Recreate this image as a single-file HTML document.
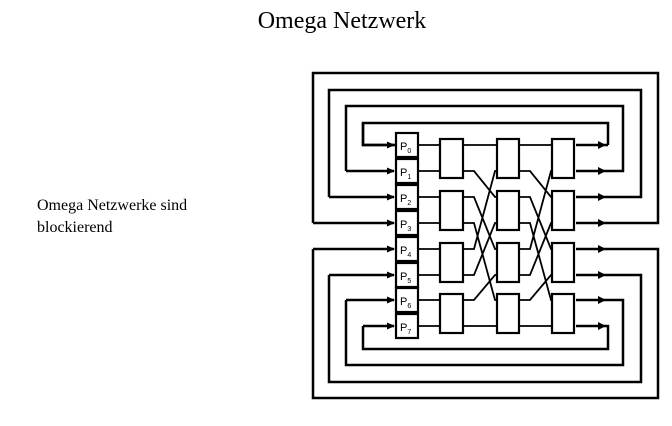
<!DOCTYPE html>
<html><head><style>
body{margin:0;background:#fff;width:672px;height:426px;overflow:hidden;position:relative;font-family:"Liberation Serif",serif}
.t{position:absolute;left:0;width:684px;text-align:center;top:8px;font-size:24px}
.s{position:absolute;left:37px;top:195px;font-size:16px;line-height:22px}
</style></head><body>
<div class="t">Omega Netzwerk</div>
<div class="s">Omega Netzwerke sind<br>blockierend</div>
<svg width="672" height="426" style="position:absolute;left:0;top:0">
<defs><marker id="a" markerWidth="8" markerHeight="8" refX="7" refY="4" orient="auto" markerUnits="userSpaceOnUse"><path d="M0,0.5 L8,4 L0,7.5z" fill="#000"/></marker></defs>
<g fill="none" stroke="#000" stroke-width="2.5">
<path d="M396,145 H363 V123 H608 V145" marker-start="url(#a)"/>
<path d="M363,123 V145 H394" marker-end="url(#a)"/>
<path d="M346,171 V106 H623 V171 H576"/><path d="M346,171 H394" marker-end="url(#a)"/>
<path d="M329,197 V90 H641 V197 H576"/><path d="M329,197 H394" marker-end="url(#a)"/>
<path d="M313,223 V73 H658 V223 H576"/><path d="M313,223 H394" marker-end="url(#a)"/>
<path d="M313,249 V398 H658 V249 H576"/><path d="M313,249 H394" marker-end="url(#a)"/>
<path d="M329,275 V382 H641 V275 H576"/><path d="M329,275 H394" marker-end="url(#a)"/>
<path d="M346,300 V365 H623 V300 H576"/><path d="M346,300 H394" marker-end="url(#a)"/>
<path d="M363,326 V349 H608 V326 H576"/><path d="M363,326 H394" marker-end="url(#a)"/>
<path d="M608,145 H576"/>
</g>
<g fill="#000">
<path d="M598,141 L606,145 L598,149z"/><path d="M598,167 L606,171 L598,175z"/><path d="M598,193 L606,197 L598,201z"/><path d="M598,219 L606,223 L598,227z"/>
<path d="M598,245 L606,249 L598,253z"/><path d="M598,271 L606,275 L598,279z"/><path d="M598,296 L606,300 L598,304z"/><path d="M598,322 L606,326 L598,330z"/>
</g>
<g stroke="#000" stroke-width="1.8" fill="none">
<path d="M418,145H440M418,171H440M418,197H440M418,223H440M418,249H440M418,275H440M418,300H440M418,326H440"/>
<path d="M463,145H497M463,171H474L495,197H497M463,197H474L495,249H497M463,223H474L495,300H497M463,249H474L495,171H497M463,275H474L495,223H497M463,300H474L495,275H497M463,326H497"/>
<path d="M519,145H552M519,171H530L551,197H552M519,197H530L551,249H552M519,223H530L551,300H552M519,249H530L551,171H552M519,275H530L551,223H552M519,300H530L551,275H552M519,326H552"/>
</g>
<g stroke="#000" stroke-width="2.2" fill="#fff">
<rect x="396" y="133" width="22" height="24"/><rect x="396" y="159" width="22" height="24"/><rect x="396" y="185" width="22" height="24"/><rect x="396" y="211" width="22" height="24"/>
<rect x="396" y="237" width="22" height="24"/><rect x="396" y="263" width="22" height="24"/><rect x="396" y="288" width="22" height="24"/><rect x="396" y="314" width="22" height="24"/>
<rect x="440" y="139" width="23" height="39"/><rect x="440" y="191" width="23" height="39"/><rect x="440" y="243" width="23" height="39"/><rect x="440" y="294" width="23" height="39"/>
<rect x="497" y="139" width="22" height="39"/><rect x="497" y="191" width="22" height="39"/><rect x="497" y="243" width="22" height="39"/><rect x="497" y="294" width="22" height="39"/>
<rect x="552" y="139" width="22" height="39"/><rect x="552" y="191" width="22" height="39"/><rect x="552" y="243" width="22" height="39"/><rect x="552" y="294" width="22" height="39"/>
</g>
<g font-family="Liberation Sans, sans-serif" font-size="11" fill="#000">
<text x="400" y="150">P<tspan font-size="7" dy="3">0</tspan></text>
<text x="400" y="176">P<tspan font-size="7" dy="3">1</tspan></text>
<text x="400" y="202">P<tspan font-size="7" dy="3">2</tspan></text>
<text x="400" y="228">P<tspan font-size="7" dy="3">3</tspan></text>
<text x="400" y="254">P<tspan font-size="7" dy="3">4</tspan></text>
<text x="400" y="280">P<tspan font-size="7" dy="3">5</tspan></text>
<text x="400" y="305">P<tspan font-size="7" dy="3">6</tspan></text>
<text x="400" y="331">P<tspan font-size="7" dy="3">7</tspan></text>
</g>
</svg>
</body></html>
